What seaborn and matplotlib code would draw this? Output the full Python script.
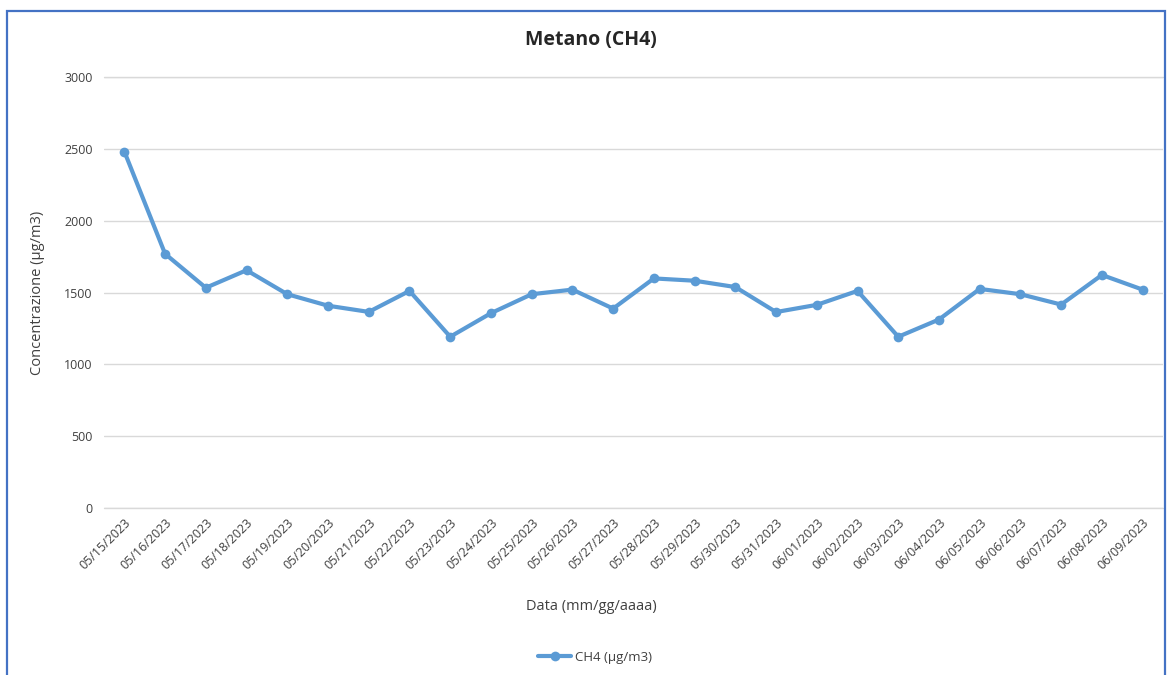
import matplotlib
matplotlib.use("Agg")
import matplotlib.pyplot as plt
import seaborn as sns
import pandas as pd
from matplotlib.patches import Rectangle

dates = ["05/15/2023", "05/16/2023", "05/17/2023", "05/18/2023", "05/19/2023",
         "05/20/2023", "05/21/2023", "05/22/2023", "05/23/2023", "05/24/2023",
         "05/25/2023", "05/26/2023", "05/27/2023", "05/28/2023", "05/29/2023",
         "05/30/2023", "05/31/2023", "06/01/2023", "06/02/2023", "06/03/2023",
         "06/04/2023", "06/05/2023", "06/06/2023", "06/07/2023", "06/08/2023",
         "06/09/2023"]
ch4 = [2481, 1769, 1533, 1655, 1488, 1408, 1365, 1511, 1192, 1356,
       1488, 1520, 1388, 1598, 1582, 1538, 1364, 1414, 1511, 1192,
       1312, 1525, 1488, 1416, 1622, 1520]
yticks = [0, 500, 1000, 1500, 2000, 2500, 3000]

sns.set_theme(style="white")
plt.rcParams["font.family"] = ["Open Sans", "DejaVu Sans"]

df = pd.DataFrame({"Data": dates, "CH4": ch4})

fig = plt.figure(figsize=(11.68, 6.75), dpi=100)
ax = fig.add_axes([104 / 1168, 1 - 508 / 675, (1163 - 104) / 1168, (508 - 77) / 675])

line_color = "#5B9BD5"
text_color = "#404040"

sns.lineplot(data=df, x="Data", y="CH4", ax=ax, color=line_color, linewidth=3.0,
             marker="o", markersize=7, markeredgewidth=0, sort=False,
             label="CH4 (µg/m3)")

ax.set_xlim(-0.5, len(dates) - 0.5)
ax.set_ylim(0, 3000)
ax.set_yticks(yticks)
ax.set_yticklabels([str(v) for v in yticks], fontsize=9, color=text_color)
ax.set_xticks(range(len(dates)))
ax.set_xticklabels(dates, rotation=45, ha="right", rotation_mode="anchor",
                   fontsize=9, color=text_color)
ax.tick_params(axis="both", length=0, pad=8)
ax.tick_params(axis="x", pad=6)

ax.yaxis.grid(True, color="#D9D9D9", linewidth=1)
ax.xaxis.grid(False)
ax.set_axisbelow(True)
for y in (0, 3000):
    ax.axhline(y, color="#D9D9D9", linewidth=1, clip_on=False, zorder=0)
for s in ax.spines.values():
    s.set_visible(False)

ax.set_ylabel("Concentrazione (µg/m3)", fontsize=10.5, color=text_color, labelpad=14)
ax.set_xlabel("")
fig.text(591 / 1168, 1 - 607 / 675, "Data (mm/gg/aaaa)", ha="center", va="center",
         fontsize=10.5, color=text_color)
fig.text(591 / 1168, 1 - 40 / 675, "Metano (CH4)", ha="center", va="center",
         fontsize=14, fontweight="bold", color="#262626")

leg = ax.legend(loc="center", bbox_to_anchor=(595 / 1168, 1 - 657 / 675),
                bbox_transform=fig.transFigure, frameon=False, fontsize=9.5,
                handlelength=2.5, handletextpad=0.3)
for t in leg.get_texts():
    t.set_color(text_color)

fig.patches.append(Rectangle((7 / 1168, -0.01), (1165 - 7) / 1168, 1 - 11 / 675 + 0.01,
                             transform=fig.transFigure, fill=False,
                             edgecolor="#4472C4", linewidth=1.6))

fig.savefig("out.png", dpi=100, facecolor="white")
